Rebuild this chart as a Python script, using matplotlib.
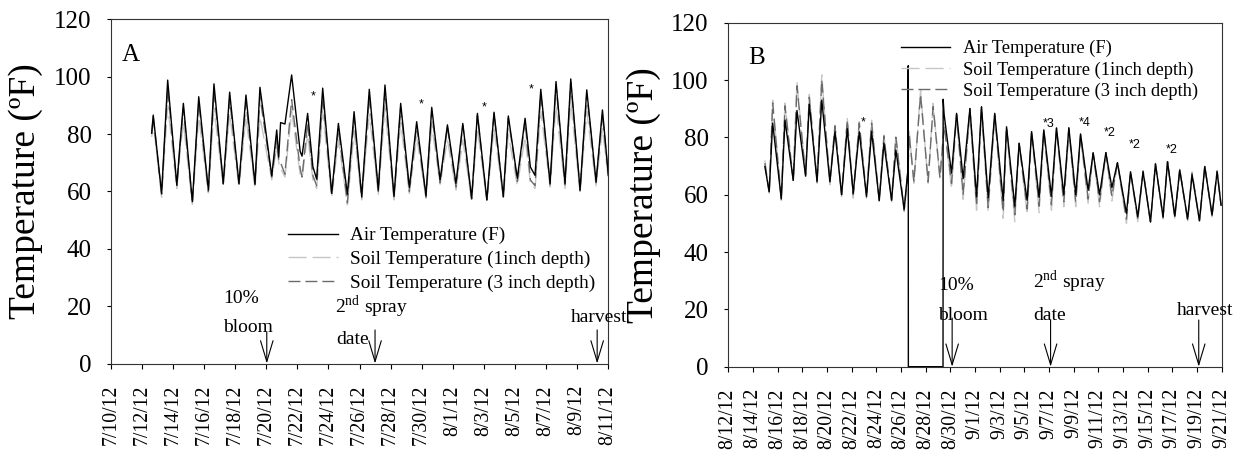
import matplotlib
matplotlib.use("Agg")
import matplotlib.pyplot as plt
import numpy as np
from matplotlib.lines import Line2D

plt.rcParams["font.family"] = ["Liberation Serif", "DejaVu Serif"]
plt.rcParams["mathtext.fontset"] = "custom"
plt.rcParams["mathtext.rm"] = "Liberation Serif"
plt.rcParams["lines.scale_dashes"] = False

# ---- panel A: 7/10/12 - 8/11/12, x = days since 7/10 (daily highs / lows) ----
a_days = [2.62, 2.72, 3.26, 3.65, 4.24, 4.45, 4.66, 5.24, 5.65, 6.27, 6.63, 7.23, 7.64,
          8.24, 8.69, 9.27, 9.59, 10.35, 10.67, 10.80, 10.92, 11.20, 11.63, 12.18, 12.30,
          12.66, 13.00, 13.24, 13.63, 14.21, 14.64, 15.22, 15.65, 16.14, 16.63, 17.21,
          17.64, 18.22, 18.65, 19.21, 19.68, 20.28, 20.65, 21.19, 21.66, 22.21, 22.65,
          23.22, 23.59, 24.20, 24.66, 25.26, 25.58, 26.16, 26.66, 27.00, 27.30, 27.67,
          28.27, 28.65, 29.23, 29.60, 30.20, 30.63, 31.23, 31.64, 32.02]
a_air = [80.3, 86.6, 59.3, 98.8, 62.2, 77, 90.7, 56.4, 93.0, 60.5, 97.5, 62.8, 94.6,
         62.8, 93.6, 62.6, 96.3, 65.4, 81.4, 72, 84.0, 83.5, 100.6, 73.9, 72.3,
         87.2, 68.6, 64.3, 96.0, 59.3, 83.7, 59.0, 87.8, 58.2, 95.6, 60.5,
         97.1, 58.2, 90.7, 61.4, 84.3, 58.5, 89.3, 64.0, 83.2, 62.8, 83.7,
         57.6, 87.2, 57.0, 87.6, 58.2, 86.3, 64.6, 85.5, 68.5, 65.6, 95.6,
         62.8, 98.3, 62.8, 99.2, 60.5, 95.4, 63.4, 88.4, 65.7]
a_soil1 = [79, 84, 58, 90, 61, 74, 84, 55.5, 86, 59.5, 89, 62, 87,
           61.5, 86, 61, 86, 64, 76, 70, 68, 65, 88, 66, 64.5,
           80, 64, 61, 88, 58, 78, 55.3, 81, 57, 87, 59,
           89, 57, 84, 59.3, 79, 57.6, 83, 62.5, 78, 60.5, 78,
           56.5, 82, 56.5, 82, 57.5, 80, 62, 79, 63, 61, 88,
           61.5, 90, 61, 91, 59.5, 88, 62, 82, 64.5]
a_soil3 = [80, 86, 59, 96, 62, 76, 89, 56, 91, 60, 95, 62.5, 92,
           62.5, 91, 62.3, 93, 65, 78, 71, 70, 66, 92, 68, 65,
           84, 65.5, 62, 93, 58.8, 82, 56, 86, 57.8, 93, 60,
           95, 57.8, 89, 60, 83, 58, 88, 63, 82.5, 61.5, 83,
           57.3, 86.5, 57, 87, 58, 85.5, 63.5, 84.5, 64, 62, 94,
           62.3, 97, 62.3, 98, 60.2, 94, 63, 87, 65.5]
a_tick_labels = ["7/10/12", "7/12/12", "7/14/12", "7/16/12", "7/18/12", "7/20/12",
                 "7/22/12", "7/24/12", "7/26/12", "7/28/12", "7/30/12", "8/1/12",
                 "8/3/12", "8/5/12", "8/7/12", "8/9/12", "8/11/12"]
a_star_days = [12.99, 20.0, 24.02, 27.03]
a_star_vals = [92.0, 89.1, 88.4, 94.4]

# ---- panel B: 8/12/12 - 9/21/12, x = days since 8/12 ----
b_days = [2.97, 3.32, 3.6, 4.3, 4.6, 5.27, 5.57, 6.27, 6.57, 7.2, 7.58, 8.24, 8.65,
          9.19, 9.65, 10.13, 10.62, 11.21, 11.62, 12.24, 12.62, 13.24, 13.59, 14.26,
          14.55, 14.59, 14.60, 14.67, 15.05, 15.59, 16.2, 16.61, 17.16, 17.41, 17.42,
          17.5, 18.1, 18.51, 19.04, 19.59, 20.13, 20.53, 21.07, 21.6, 22.29, 22.56,
          23.23, 23.58, 24.23, 24.59, 25.2, 25.58, 26.2, 26.61, 27.2, 27.61, 28.17,
          28.56, 29.17, 29.58, 30.1, 30.61, 31.1, 31.55, 32.28, 32.61, 33.2, 33.63,
          34.23, 34.63, 35.25, 35.61, 36.2, 36.6, 37.24, 37.6, 38.2, 38.63, 39.22,
          39.63, 39.95]
b_air = [69.8, 61, 85, 58.5, 86, 65, 89.4, 66.5, 91.6, 64.5, 93, 64.5, 82,
         60, 83, 60.5, 82, 59.3, 82, 58, 78, 58.1, 75.6, 55,
         68, 105, 0, 0, 0, 0, 0, 0, 0, 0, 93.3,
         88, 67.5, 88.4, 65.6, 90.1, 59.3, 90.7, 59, 88.4, 58, 83.7,
         56, 77.9, 58, 82, 59, 82.6, 59.5, 83.3, 60, 83.4, 60,
         81.2, 61.6, 74.6, 60, 74.7, 62.5, 71.2, 53.5, 68, 52.3, 68,
         50.5, 70.7, 52.3, 71.5, 52.5, 68.6, 51.5, 66.9, 51, 69.8, 53,
         68, 56.3]
b_soil1 = [72, 60.5, 93, 58, 92, 64.5, 99.4, 66, 95, 64, 101.8, 63.5, 84.3,
           59.3, 86.6, 58.8, 85.5, 58.5, 86, 57.6, 80.8, 57.5, 80.8, 54.1,
           68, 72, 73, 82, 64, 96.5, 64, 91.9, 65.6, 80, 81,
           85, 62, 88, 58.4, 89, 54.6, 90, 54.1, 87.8, 51.8, 83,
           50.6, 77.5, 53, 82, 53.8, 82.4, 54.6, 83.1, 55.8, 82.5, 55.8,
           80.5, 57, 74.7, 55.8, 74.7, 57.8, 71.2, 50, 68, 50.6, 68.5,
           50, 71, 51.5, 71.5, 51.8, 69, 50.9, 68, 50.6, 70, 52.3,
           68.5, 56.5]
b_soil3 = [71, 60.7, 92, 58.5, 91, 65, 98, 67, 94, 65, 100, 64.5, 84,
           60, 86, 60, 85, 59.5, 85, 58, 80.5, 58, 80, 54.5,
           67, 71, 72, 81, 64.5, 95, 64.5, 90.7, 66, 79, 80,
           84, 64, 88, 60, 90, 56, 90.5, 55.5, 88, 54, 83.5,
           53, 78, 55, 82, 56, 82.5, 56.5, 83.2, 57.5, 83, 57.5,
           81, 58.5, 74.6, 57.5, 74.7, 59.5, 71.2, 51.5, 68, 51.5, 68.2,
           50.5, 70.8, 52, 71.5, 52, 68.8, 51, 67.5, 50.8, 70, 52.5,
           68.2, 56.4]
b_tick_labels = ["8/12/12", "8/14/12", "8/16/12", "8/18/12", "8/20/12", "8/22/12",
                 "8/24/12", "8/26/12", "8/28/12", "8/30/12", "9/1/12", "9/3/12",
                 "9/5/12", "9/7/12", "9/9/12", "9/11/12", "9/13/12", "9/15/12",
                 "9/17/12", "9/19/12", "9/21/12"]
b_star_texts = ["*", "*3", "*4", "*2", "*2", "*2"]
b_star_days = [10.72, 25.47, 28.44, 30.47, 32.47, 35.47]
b_star_vals = [84.1, 83.5, 84.0, 80.5, 76.4, 74.6]

for n, series in [(len(a_days), [a_air, a_soil1, a_soil3]),
                  (len(b_days), [b_air, b_soil1, b_soil3])]:
    assert all(len(s) == n for s in series)

AIR = dict(color="black", lw=1.0, ls="-")
SOIL1 = dict(color="#c6c6c6", lw=1.0, ls=(0, (13, 4.3)))
SOIL3 = dict(color="#6b6b6b", lw=1.0, ls=(0, (8.6, 3.6)))
LABELS = ["Air Temperature (F)", "Soil Temperature (1inch depth)",
          "Soil Temperature (3 inch depth)"]


def event_arrow(ax, day, top):
    ax.annotate("", xy=(day, 0), xytext=(day, top),
                arrowprops=dict(arrowstyle="->,head_length=1.5,head_width=0.45",
                                color="black", lw=0.8, shrinkA=0, shrinkB=0,
                                mutation_scale=10))


def setup_panel(ax, days, air, soil1, soil3, tick_labels, letter):
    ax.plot(days, soil1, zorder=2, **SOIL1)
    ax.plot(days, soil3, zorder=3, **SOIL3)
    ax.plot(days, air, zorder=4, **AIR)
    ax.set_xlim(0, 2 * (len(tick_labels) - 1))
    ax.set_ylim(0, 120)
    ax.set_xticks(np.arange(0, 2 * len(tick_labels), 2))
    ax.set_xticklabels(tick_labels)
    ax.set_yticks(np.arange(0, 121, 20))
    ax.tick_params(axis="x", labelsize=14.2, labelrotation=90, pad=12,
                   length=3.5, width=0.8, direction="out")
    ax.tick_params(axis="y", labelsize=18, pad=11, length=3, width=0.8,
                   direction="out")
    for sp in ax.spines.values():
        sp.set_linewidth(0.8)
        sp.set_color("#333333")
    ax.set_ylabel("Temperature (ºF)", fontsize=27)
    ax.yaxis.set_label_coords(-0.137, 0.5)
    ax.text(0.022 if letter == "A" else 0.04, 0.88, letter, transform=ax.transAxes,
            fontsize=18, va="baseline", ha="left")


fig = plt.figure(figsize=(12.47, 4.51), dpi=100)
ax_a = fig.add_axes([0.0890, 0.194, 0.3986, 0.7632])
ax_b = fig.add_axes([0.5840, 0.1869, 0.3957, 0.7627])

setup_panel(ax_a, a_days, a_air, a_soil1, a_soil3, a_tick_labels, "A")
setup_panel(ax_b, b_days, b_air, b_soil1, b_soil3, b_tick_labels, "B")

handles = [Line2D([], [], **AIR), Line2D([], [], **SOIL1), Line2D([], [], **SOIL3)]
ax_a.legend(handles, LABELS, loc="upper left", bbox_to_anchor=(0.356, 0.397),
            frameon=False, fontsize=13.9, borderpad=0, borderaxespad=0,
            handlelength=2.6, handletextpad=0.62, labelspacing=0.32)
ax_b.legend(handles, LABELS, loc="upper left", bbox_to_anchor=(0.350, 0.950),
            frameon=False, fontsize=13.2, borderpad=0, borderaxespad=0,
            handlelength=2.67, handletextpad=0.69, labelspacing=0.22)

# panel A event labels
ax_a.text(7.21, 21.0, "10%", fontsize=14)
ax_a.text(7.21, 11.0, "bloom", fontsize=14)
event_arrow(ax_a, 10.03, 11.0)
ax_a.text(14.42, 17.6, "2$^{\\mathrm{nd}}$ spray", fontsize=14)
ax_a.text(14.49, 6.8, "date", fontsize=14)
event_arrow(ax_a, 17.0, 11.7)
ax_a.text(29.62, 14.6, "harvest", fontsize=14)
event_arrow(ax_a, 31.3, 11.7)
for d, v in zip(a_star_days, a_star_vals):
    ax_a.text(d, v, "*", fontsize=9, ha="center", va="baseline",
              family=["Liberation Sans", "DejaVu Sans"])

# panel B event labels
ax_b.text(16.99, 26.8, "10%", fontsize=14)
ax_b.text(16.99, 16.3, "bloom", fontsize=14)
event_arrow(ax_b, 18.15, 17.0)
ax_b.text(24.69, 27.4, "2$^{\\mathrm{nd}}$ spray", fontsize=14)
ax_b.text(24.69, 16.3, "date", fontsize=14)
event_arrow(ax_b, 26.13, 16.3)
ax_b.text(36.36, 18.0, "harvest", fontsize=14)
event_arrow(ax_b, 38.14, 16.3)
for t, d, v in zip(b_star_texts, b_star_days, b_star_vals):
    ax_b.text(d, v, t, fontsize=9, ha="left", va="baseline",
              family=["Liberation Sans", "DejaVu Sans"])

fig.savefig("out.png", dpi=100)
